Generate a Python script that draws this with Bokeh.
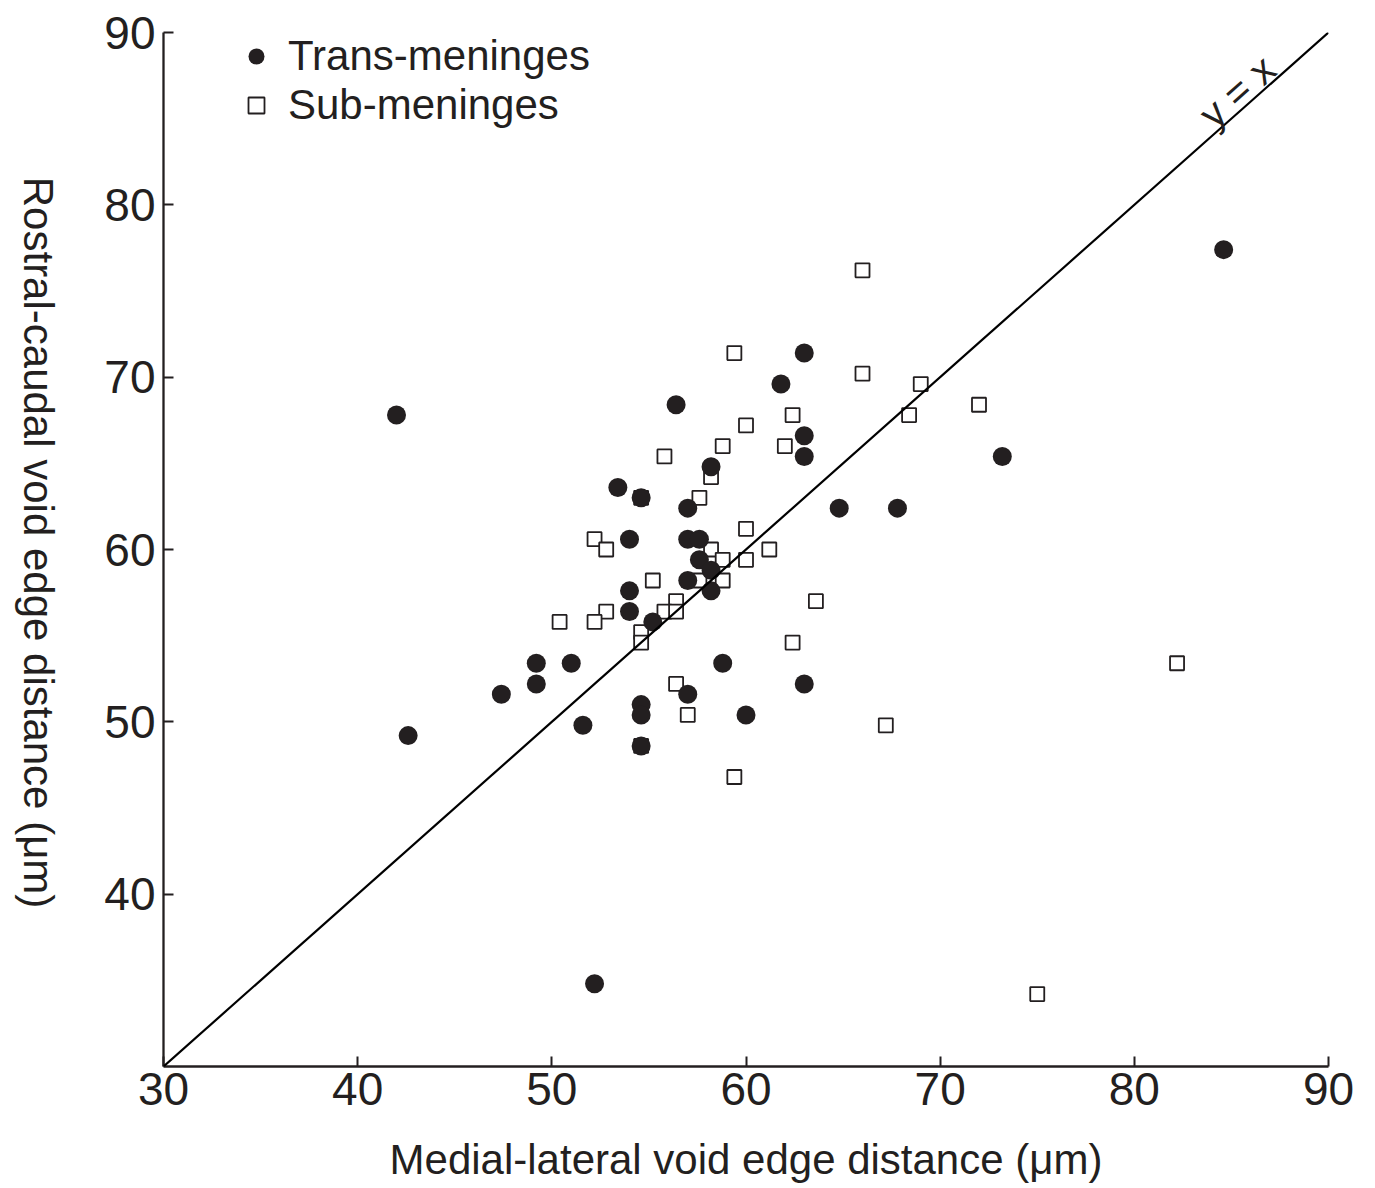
import math
from bokeh.plotting import figure
from bokeh.layouts import row
from bokeh.models import (ColumnDataSource, FixedTicker, Legend, LegendItem,
                          Label, Slope, Range1d)
from bokeh.embed import file_html
from bokeh.resources import INLINE

# ---------------- data ----------------
trans_x = [42.0, 42.6, 52.2, 84.6, 73.2, 67.8, 64.8, 63.0, 61.8, 63.0,
           63.0, 56.4, 58.2, 53.4, 54.6, 57.0, 54.0, 57.0, 57.6, 57.6,
           58.2, 57.0, 58.2, 54.0, 54.0, 55.2, 49.2, 51.0, 58.8, 49.2,
           47.4, 57.0, 63.0, 54.6, 54.6, 51.6, 60.0, 54.6]
trans_y = [67.8, 49.2, 34.8, 77.4, 65.4, 62.4, 62.4, 71.4, 69.6, 66.6,
           65.4, 68.4, 64.8, 63.6, 63.0, 62.4, 60.6, 60.6, 60.6, 59.4,
           58.8, 58.2, 57.6, 57.6, 56.4, 55.8, 53.4, 53.4, 53.4, 52.2,
           51.6, 51.6, 52.2, 51.0, 50.4, 49.8, 50.4, 48.6]

sub_x = [66.0, 59.4, 66.0, 69.0, 72.0, 68.4, 62.4, 60.0, 58.8, 62.0,
         55.8, 58.2, 57.6, 60.0, 52.2, 52.8, 61.2, 58.2, 58.8, 60.0,
         58.8, 55.2, 57.6, 63.6, 56.4, 55.8, 56.4, 52.8, 50.4, 52.2,
         54.6, 54.6, 62.4, 56.4, 57.0, 59.4, 67.2, 82.2, 75.0, 54.6,
         54.6]
sub_y = [76.2, 71.4, 70.2, 69.6, 68.4, 67.8, 67.8, 67.2, 66.0, 66.0,
         65.4, 64.2, 63.0, 61.2, 60.6, 60.0, 60.0, 60.0, 59.4, 59.4,
         58.2, 58.2, 58.2, 57.0, 57.0, 56.4, 56.4, 56.4, 55.8, 55.8,
         55.2, 54.6, 54.6, 52.2, 50.4, 46.8, 49.8, 53.4, 34.2, 63.0,
         48.6]

series_names = ["Trans-meninges", "Sub-meninges"]
x_ticks = [30, 40, 50, 60, 70, 80, 90]
y_ticks = [40, 50, 60, 70, 80, 90]
x_range = (30, 90)
y_range = (30, 90)
x_title = "Medial-lateral void edge distance (\u03bcm)"
y_title = "Rostral-caudal void edge distance (\u03bcm)"
ref_text = "y = x"

# ---------------- style ----------------
INK = "#231f20"
FONT = "Liberation Sans"
W, H = 1368, 1188
LW = 70                       # strip on the left that carries the y title
BL, BR, BT, BB = 163 - LW, 40, 32, 122
PW = W - LW
FW = PW - BL - BR
FH = H - BT - BB

# ---- left strip: y-axis title reading top-to-bottom ----
lf = figure(width=LW, height=H, x_range=Range1d(0, LW), y_range=Range1d(0, H),
            output_backend="svg", toolbar_location=None,
            x_axis_type=None, y_axis_type=None, min_border=0)
lf.grid.visible = False
lf.outline_line_color = None
lf.background_fill_color = "white"
lf.border_fill_color = "white"
lf.add_layout(Label(x=38, y=H - 586, text=y_title, angle=-math.pi / 2,
                    text_align="center", text_baseline="middle",
                    text_font=FONT, text_font_size="42px", text_color=INK))

# ---- main plot ----
p = figure(width=PW, height=H,
           x_range=Range1d(*x_range), y_range=Range1d(*y_range),
           output_backend="svg", toolbar_location=None,
           min_border_left=BL, min_border_right=BR,
           min_border_top=BT, min_border_bottom=BB)
p.grid.visible = False
p.outline_line_color = None
p.background_fill_color = "white"
p.border_fill_color = "white"

for ax in (p.xaxis[0], p.yaxis[0]):
    ax.axis_line_color = INK
    ax.axis_line_width = 2.3
    ax.major_tick_line_color = INK
    ax.major_tick_line_width = 2
    ax.major_tick_in = 10
    ax.major_tick_out = 0
    ax.minor_tick_line_color = None
    ax.major_label_text_font = FONT
    ax.major_label_text_font_size = "46px"
    ax.major_label_text_color = INK
    ax.axis_label_text_font = FONT
    ax.axis_label_text_font_size = "42px"
    ax.axis_label_text_font_style = "normal"
    ax.axis_label_text_color = INK

p.xaxis.ticker = FixedTicker(ticks=x_ticks)
p.yaxis.ticker = FixedTicker(ticks=y_ticks)
p.xaxis.major_label_standoff = 6
p.yaxis.major_label_standoff = 8
p.xaxis.axis_label = x_title
p.xaxis.axis_label_standoff = 28

# reference line y = x
p.add_layout(Slope(gradient=1, y_intercept=0, line_color="black", line_width=2.2))

sub_src = ColumnDataSource(dict(x=sub_x, y=sub_y))
trans_src = ColumnDataSource(dict(x=trans_x, y=trans_y))
r_sub = p.scatter("x", "y", source=sub_src, marker="square", size=14,
                  fill_color="white", line_color=INK, line_width=1.8)
r_trans = p.scatter("x", "y", source=trans_src, marker="circle", size=19,
                    fill_color=INK, line_color=INK, line_width=0)

legend = Legend(items=[LegendItem(label=series_names[0], renderers=[r_trans]),
                       LegendItem(label=series_names[1], renderers=[r_sub])],
                location=(73, 937), orientation="vertical",
                glyph_width=40, glyph_height=40, label_standoff=12,
                spacing=1, padding=0, margin=0,
                label_text_font=FONT, label_text_font_size="42px",
                label_text_color=INK,
                border_line_color=None, background_fill_alpha=0)
p.add_layout(legend, "center")

# "y = x" label along the diagonal, just above it
ang = math.atan2(FH / (y_range[1] - y_range[0]), FW / (x_range[1] - x_range[0]))
p.add_layout(Label(x=85.3, y=85.3, x_offset=0, y_offset=22, text=ref_text, angle=ang,
                   text_align="center", text_baseline="alphabetic",
                   text_font=FONT, text_font_size="40px", text_color=INK))

layout = row(lf, p)
open("out.html", "w").write(file_html(layout, INLINE))
